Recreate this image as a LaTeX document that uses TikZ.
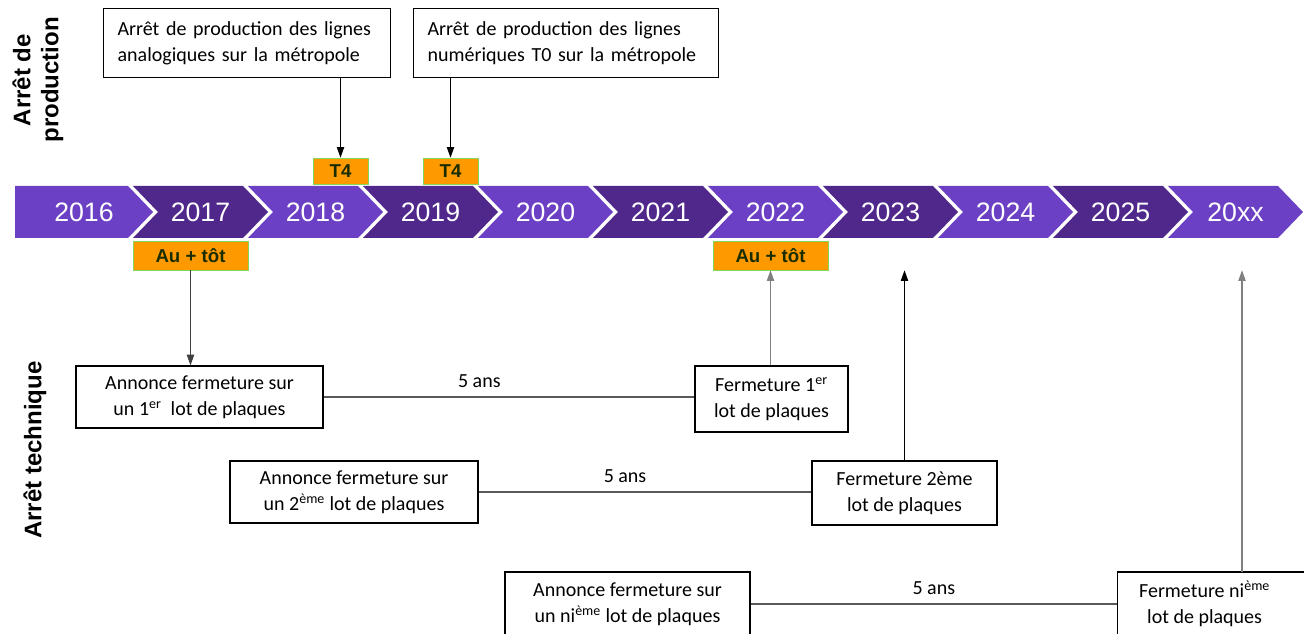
\documentclass[tikz,border=0pt]{standalone}
\usepackage{fontspec}
\setmainfont{Carlito}
\newfontfamily\arialfont{Liberation Sans}
\usetikzlibrary{arrows.meta}

\newdimen\unitpx \unitpx=0.75pt
\definecolor{lite}{RGB}{108,64,196}
\definecolor{deep}{RGB}{80,40,140}
\definecolor{tagfill}{RGB}{255,153,0}
\definecolor{tagedge}{RGB}{130,215,90}
\definecolor{tagtext}{RGB}{25,45,0}

\begin{document}
\begin{tikzpicture}[x=0.75pt, y=-0.75pt,
    box/.style={draw, line width=0.9pt, align=center, inner sep=0pt,
        font=\fontsize{15}{19.5}\selectfont},
    tag/.style={fill=tagfill, draw=tagedge, line width=0.4pt, text=tagtext,
        inner sep=0pt, font=\arialfont\bfseries\fontsize{14}{16}\selectfont},
    year/.style={text=white, font=\arialfont\fontsize{20}{22}\selectfont},
    side/.style={rotate=90, align=center,
        font=\arialfont\bfseries\fontsize{18}{21}\selectfont},
    tip/.style={-{Triangle[length=8pt,width=5.5pt]}, line width=0.8pt},
    gapline/.style={line width=0.9pt, gray!70!black},
    gaplabel/.style={above=3pt, text=black, font=\fontsize{15}{18}\selectfont}]
    \useasboundingbox (0,0) rectangle (1304,634);

    % side labels
    \node[side] (prodlab) at (38,80) {Arrêt de\\production};
    \node[side] (techlab) at (35,450) {Arrêt technique};

    % year band
    \foreach \yr/\col [count=\i from 0] in {2016/lite,2017/deep,2018/lite,2019/deep,
        2020/lite,2021/deep,2022/lite,2023/deep,2024/lite,2025/deep,20xx/lite}{
        \pgfmathsetmacro\lft{\i==0 ? 15 : 18+115*\i}
        \pgfmathsetmacro\rgt{128+115*\i}
        \pgfmathsetmacro\ntc{\i==0 ? 0 : 25}
        \fill[\col] (\lft,186) -- (\rgt,186) -- (\rgt+25,212) -- (\rgt,238)
            -- (\lft,238) -- (\lft+\ntc,212) -- cycle;
        \node[year] (y\yr) at ({(\lft+\rgt)/2+12.5},212) {\yr};
    }

    % production stops
    \node[box, align=left, anchor=north west, inner xsep=14\unitpx,
        text width=259\unitpx, minimum height=69\unitpx] (prod1) at (103,8)
        {Arrêt de production des lignes\\analogiques sur la métropole};
    \node[box, align=left, anchor=north west, inner xsep=14\unitpx,
        text width=277\unitpx, minimum height=69\unitpx] (prod2) at (413,8)
        {Arrêt de production des lignes\\numériques T0 sur la métropole};

    \node[tag, minimum width=55\unitpx, minimum height=26\unitpx] (t4a) at (340.5,171) {T4};
    \node[tag, minimum width=55\unitpx, minimum height=26\unitpx] (t4b) at (450.5,171) {T4};
    \node[tag, minimum width=115\unitpx, minimum height=29\unitpx] (au1) at (190.5,255.5) {Au + tôt};
    \node[tag, minimum width=115\unitpx, minimum height=29\unitpx] (au2) at (770.5,255.5) {Au + tôt};

    \draw[tip] (t4a |- prod1.south) -- (t4a.north);
    \draw[tip] (t4b |- prod2.south) -- (t4b.north);

    % technical stops
    \node[box, minimum width=247\unitpx, minimum height=62\unitpx] (a1) at (199.5,397)
        {Annonce fermeture sur\\un 1\textsuperscript{er}\ \ lot de plaques};
    \node[box, minimum width=153\unitpx, minimum height=66\unitpx] (f1) at (771.5,399)
        {Fermeture 1\textsuperscript{er}\\lot de plaques};
    \node[box, minimum width=248\unitpx, minimum height=62\unitpx] (a2) at (354,492)
        {Annonce fermeture sur\\un 2\textsuperscript{ème} lot de plaques};
    \node[box, minimum width=185\unitpx, minimum height=64\unitpx] (f2) at (904.5,493)
        {Fermeture 2ème\\lot de plaques};
    \node[box, minimum width=245\unitpx, minimum height=64\unitpx] (a3) at (627.5,604)
        {Annonce fermeture sur\\un ni\textsuperscript{ème} lot de plaques};
    \node[box, anchor=west, minimum width=200\unitpx, minimum height=64\unitpx] (f3) at (1117,604)
        {\hspace*{-26\unitpx}Fermeture ni\textsuperscript{ème}\\\hspace*{-26\unitpx}lot de plaques};

    \draw[gapline] (a1.east) -- node[pos=0.42, gaplabel] (d1) {5 ans} (a1.east -| f1.west);
    \draw[gapline] (a2.east) -- node[pos=0.44, gaplabel] (d2) {5 ans} (a2.east -| f2.west);
    \draw[gapline] (a3.east) -- node[pos=0.5, gaplabel] (d3) {5 ans} (a3.east -| f3.west);

    \draw[tip, darkgray] (au1.south) -- (au1.south |- a1.north);
    \draw[tip, gray] (au2.south |- f1.north) -- (au2.south);
    \draw[tip] (f2.north) -- (f2.north |- au2.south);
    \coordinate (f3top) at (1242,572);
    \draw[tip, gray] (f3top) -- (f3top |- au2.south);
\end{tikzpicture}
\end{document}
